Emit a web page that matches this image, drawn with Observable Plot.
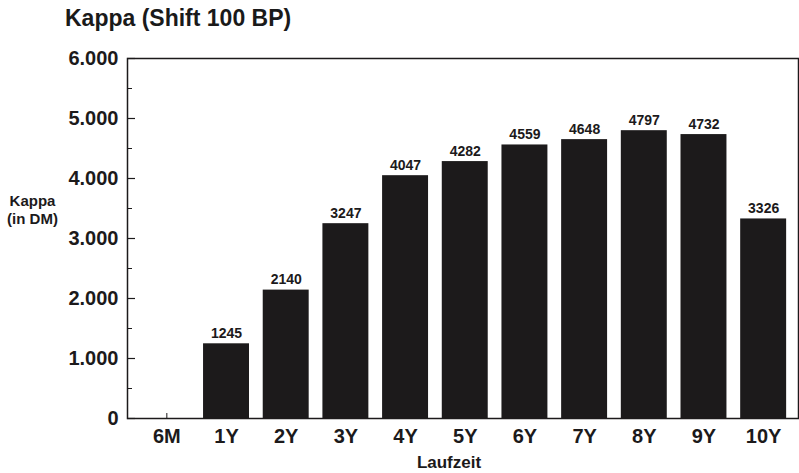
<!DOCTYPE html>
<html>
<head>
<meta charset="utf-8">
<script src="https://cdn.jsdelivr.net/npm/d3@7"></script>
<script src="https://cdn.jsdelivr.net/npm/@observablehq/plot@0.6"></script>
<style>
  html, body { margin: 0; padding: 0; background: #fff; }
  #title { height: 33px; padding: 7px 0 0 65px; font: bold 23px/23px "Liberation Sans", Arial, sans-serif; color: #1a1a1a; }
  svg { display: block; }
</style>
</head>
<body>
<div id="title">Kappa (Shift 100 BP)</div>
<div id="chart"></div>
<script>
const categories = ["6M", "1Y", "2Y", "3Y", "4Y", "5Y", "6Y", "7Y", "8Y", "9Y", "10Y"];
const kappa = [0, 1245, 2140, 3247, 4047, 4282, 4559, 4648, 4797, 4732, 3326];
const majorTicks = [0, 1000, 2000, 3000, 4000, 5000, 6000];
const minorTicks = [500, 1500, 2500, 3500, 4500, 5500];
const yLabel = "Kappa\n(in DM)";
const xLabel = "Laufzeit";

const data = categories.map((c, i) => ({cat: c, value: kappa[i]}));
const de = d3.formatLocale({decimal: ",", thousands: ".", grouping: [3], currency: ["", " DM"]});
const fmt = de.format(",d");
const ink = "#1c1a1b";
const font = "Liberation Sans, Arial, sans-serif";

const chart = Plot.plot({
  width: 799,
  height: 433,
  marginTop: 18,
  marginBottom: 55,
  marginLeft: 127,
  marginRight: 1,
  style: {fontFamily: font, color: ink, background: "#fff"},
  x: {domain: categories, paddingInner: 0.23, paddingOuter: 0.115, insetLeft: 9.5, insetRight: 5, round: false, axis: null},
  y: {domain: [0, 6000], axis: null},
  marks: [
    Plot.axisX({tickSize: -5, tickFormat: () => "", stroke: ink, strokeWidth: 1, label: null}),
    Plot.axisX({tickSize: 0, tickPadding: 10, fontSize: 20, fontWeight: "bold", fill: ink, label: null}),
    Plot.axisY({ticks: majorTicks, tickSize: 0, tickPadding: 9, tickFormat: fmt, fontSize: 20, fontWeight: "bold", fill: ink, label: null}),
    Plot.axisY({ticks: majorTicks, tickSize: -8, tickFormat: () => "", stroke: ink, strokeWidth: 1.2, label: null}),
    Plot.axisY({ticks: minorTicks, tickSize: -5, tickFormat: () => "", stroke: ink, strokeWidth: 1, label: null}),
    Plot.barY(data, {x: "cat", y: "value", fill: ink}),
    Plot.text(data.filter(d => d.value > 0), {x: "cat", y: "value", text: d => String(d.value), lineAnchor: "bottom", dy: -6, fontSize: 14, fontWeight: "bold", fill: ink}),
    Plot.frame({stroke: ink, strokeWidth: 1.5}),
    Plot.text([yLabel], {frameAnchor: "left", dx: -95, dy: -29, text: d => d, fontSize: 15, fontWeight: "bold", lineHeight: 1.2, fill: ink, textAnchor: "middle"}),
    Plot.text([xLabel], {frameAnchor: "bottom", dx: -14, dy: 49, text: d => d, fontSize: 17, fontWeight: "bold", fill: ink})
  ]
});
document.getElementById("chart").appendChild(chart);
</script>
</body>
</html>
